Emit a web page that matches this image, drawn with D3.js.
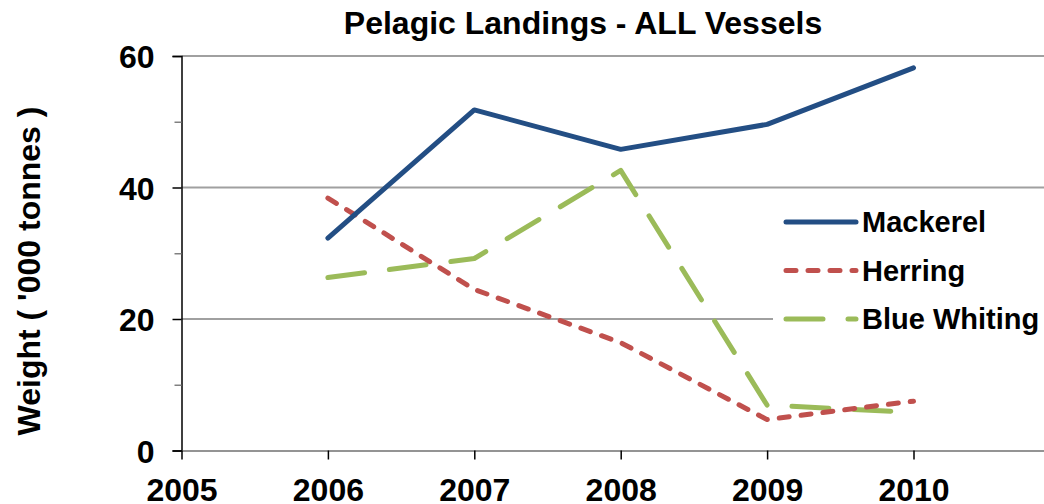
<!DOCTYPE html>
<html>
<head>
<meta charset="utf-8">
<script src="https://cdn.jsdelivr.net/npm/d3@7"></script>
<style>
  html, body { margin: 0; padding: 0; background: #fff; }
  svg { display: block; font-family: "Liberation Sans", Arial, sans-serif; font-weight: bold; }
</style>
</head>
<body>
<svg id="chart" width="1044" height="504"></svg>
<script>
const years = [2006, 2007, 2008, 2009, 2010];
const mackerel = [32.3, 51.8, 45.8, 49.6, 58.2];
const herring = [38.4, 24.5, 16.4, 4.7, 7.5];
const blueWhiting = [26.3, 29.2, 42.6, 6.9, 5.8];
const seriesNames = ["Mackerel", "Herring", "Blue Whiting"];
const xTicks = [2005, 2006, 2007, 2008, 2009, 2010];
const yMajorTicks = [0, 20, 40, 60];
const yMinorTicks = [10, 30, 50];
const title = "Pelagic Landings - ALL Vessels";
const yTitle = "Weight ( '000 tonnes )";

const svg = d3.select("#chart");
const W = 1044, H = 504;
const mLeft = 181.5, mTop = 56, mBottom = 450.5;
const step = 146.4;

const x = d3.scaleLinear().domain([2005, 2011]).range([mLeft, mLeft + 6 * step]);
const y = d3.scaleLinear().domain([0, 60]).range([mBottom, mTop]);

// gridlines
svg.append("g").selectAll("line").data(yMajorTicks.filter(d => d > 0)).join("line")
  .attr("x1", mLeft).attr("x2", W)
  .attr("y1", d => y(d)).attr("y2", d => y(d))
  .attr("stroke", "#a0a0a0").attr("stroke-width", 2);

// y axis
const yAxis = svg.append("g").attr("transform", `translate(${mLeft},0)`)
  .call(d3.axisLeft(y).tickValues(yMajorTicks).tickSize(9).tickFormat(d3.format("d")));
yAxis.select(".domain").attr("stroke", "#000").attr("stroke-width", 1.5);
yAxis.selectAll(".tick line").attr("stroke", "#000").attr("stroke-width", 1.5);
yAxis.selectAll("text").attr("font-size", 32).attr("font-weight", "bold")
  .attr("font-family", "Liberation Sans, Arial, sans-serif").attr("fill", "#000")
  .attr("x", -27).attr("dy", "0.36em");
svg.append("g").attr("transform", `translate(${mLeft},0)`)
  .call(d3.axisLeft(y).tickValues(yMinorTicks).tickSize(7).tickFormat(""))
  .call(g => g.select(".domain").remove())
  .selectAll(".tick line").attr("stroke", "#808080").attr("stroke-width", 1.5);

// x axis
const xAxis = svg.append("g").attr("transform", `translate(0,${mBottom})`)
  .call(d3.axisBottom(x).tickValues(xTicks).tickSize(9).tickSizeOuter(0).tickFormat(d3.format("d")));
xAxis.select(".domain").attr("stroke", "#707070").attr("stroke-width", 1.5);
xAxis.selectAll(".tick line").attr("stroke", "#000").attr("stroke-width", 1.5);
xAxis.selectAll("text").attr("font-size", 32).attr("font-weight", "bold")
  .attr("font-family", "Liberation Sans, Arial, sans-serif").attr("fill", "#000")
  .attr("y", 50.5).attr("dy", 0);

// series
const series = [
  { name: seriesNames[0], values: mackerel, color: "#234E84", dash: null },
  { name: seriesNames[1], values: herring, color: "#C0504D", dash: "10,12" },
  { name: seriesNames[2], values: blueWhiting, color: "#9BBB59", dash: "37,25" }
];
const line = d3.line().x((d, i) => x(years[i])).y(d => y(d));

const lg = svg.append("g");
series.slice().reverse().forEach(s => {
  lg.append("path").datum(s.values)
    .attr("d", line)
    .attr("fill", "none")
    .attr("stroke", s.color)
    .attr("stroke-width", 5)
    .attr("stroke-linecap", "round")
    .attr("stroke-linejoin", "round")
    .attr("stroke-dasharray", s.dash);
});

// legend
const leg = svg.append("g");
leg.append("rect").attr("x", 773).attr("y", 196).attr("width", W - 773).attr("height", 148).attr("fill", "#fff");
series.forEach((s, i) => {
  const ly = 222 + i * 48.5;
  leg.append("line").attr("x1", 786).attr("x2", 856).attr("y1", ly).attr("y2", ly)
    .attr("stroke", s.color).attr("stroke-width", 5).attr("stroke-linecap", "round")
    .attr("stroke-dasharray", s.dash);
  leg.append("text").attr("x", 862).attr("y", ly).attr("dy", "0.35em")
    .attr("font-size", 29).attr("fill", "#000").text(s.name);
});

// title
svg.append("text").attr("x", 583).attr("y", 34).attr("text-anchor", "middle")
  .attr("font-size", 32).attr("fill", "#000").text(title);

// y title
svg.append("text").attr("transform", "translate(40,271) rotate(-90)")
  .attr("text-anchor", "middle").attr("font-size", 32).attr("fill", "#000").text(yTitle);
</script>
</body>
</html>
